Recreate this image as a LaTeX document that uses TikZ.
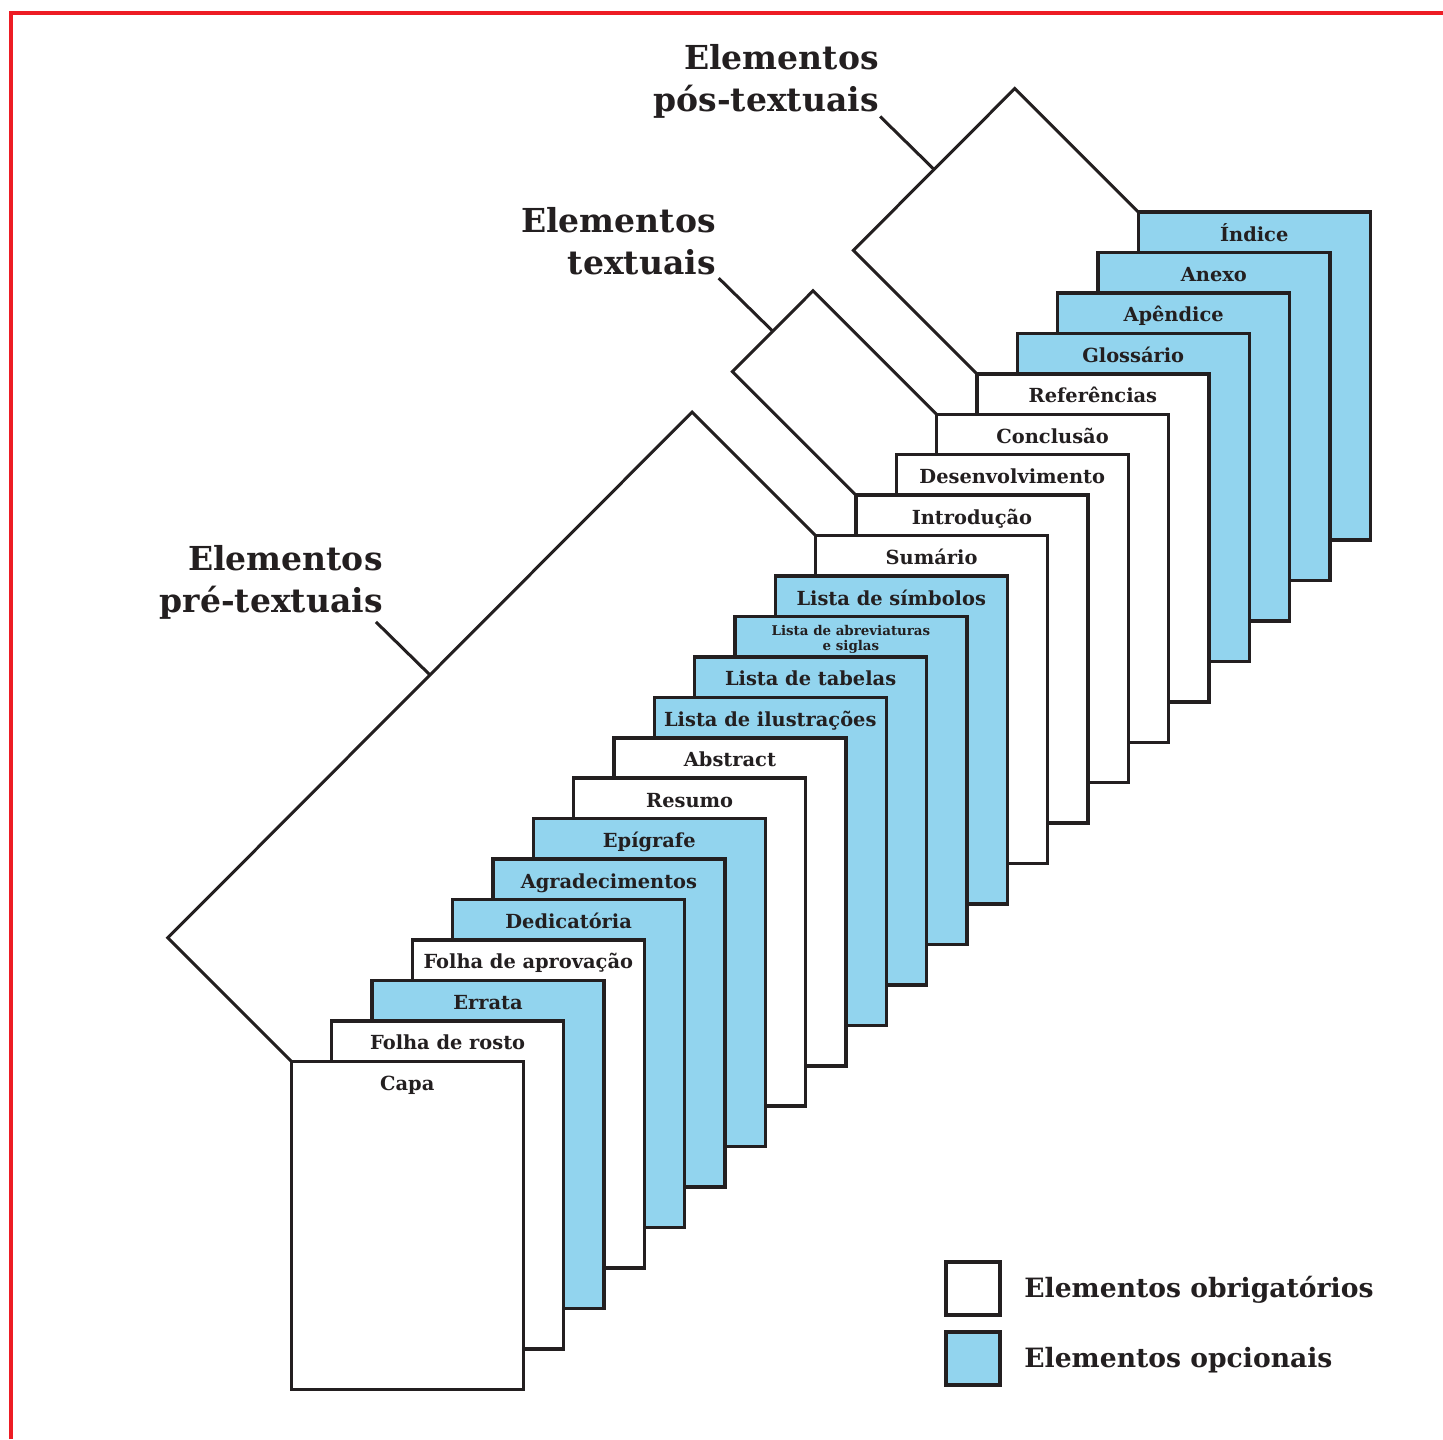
\documentclass[tikz,border=0pt]{standalone}
\usepackage{fontspec}
\setmainfont{DejaVu Serif}
\usetikzlibrary{calc}
\definecolor{ink}{HTML}{231F20}
\definecolor{optblue}{HTML}{92D4EE}
\definecolor{framered}{HTML}{ED1C24}
\newcommand{\abrevlabel}{{\fontsize{6.7}{7.5}\selectfont\begin{tabular}[t]{@{}c@{}}Lista de abreviaturas\\e siglas\end{tabular}}}
\newcommand{\twolines}[2]{\begin{tabular}[t]{@{}r@{}}#1\\#2\end{tabular}}
\begin{document}
\begin{tikzpicture}[x=0.5pt,y=-0.5pt,
  pagebox/.style={draw=ink, line width=1.75pt, minimum width=116pt, minimum height=164pt, inner sep=0pt, outer sep=0pt},
  pagetext/.style={text=ink, font=\bfseries\fontsize{9.7}{11}\selectfont, inner sep=0pt, anchor=base},
  bracket/.style={draw=ink, line width=1.5pt, line join=miter},
  grouptext/.style={text=ink, font=\bfseries\fontsize{16.5}{21}\selectfont, inner sep=0pt, anchor=base east},
  legbox/.style={draw=ink, line width=2pt, minimum width=27pt, minimum height=26.5pt, inner sep=0pt, outer sep=0pt},
  legtext/.style={text=ink, font=\bfseries\fontsize{13.3}{15}\selectfont, inner sep=0pt, anchor=base west}]
\useasboundingbox (0,0) rectangle (1443,1439);
% red frame
\draw[framered, line width=2pt] (11,1439) -- (11,13) -- (1443,13);
% pages, back to front
\foreach \i/\fc/\txt/\off in {21/optblue/Índice/29, 20/optblue/Anexo/29, 19/optblue/Apêndice/29, 18/optblue/Glossário/29, 17/white/Referências/29, 16/white/Conclusão/29, 15/white/Desenvolvimento/29, 14/white/Introdução/29, 13/white/Sumário/29, 12/optblue/Lista de símbolos/29, 11/optblue/\abrevlabel/19, 10/optblue/Lista de tabelas/29, 9/optblue/Lista de ilustrações/29, 8/white/Abstract/29, 7/white/Resumo/29, 6/optblue/Epígrafe/29, 5/optblue/Agradecimentos/29, 4/optblue/Dedicatória/29, 3/white/Folha de aprovação/29, 2/optblue/Errata/29, 1/white/Folha de rosto/29, 0/white/Capa/29}{
  \node[pagebox, fill=\fc] (p\i) at ({407.3+40.33*\i},{1225.3-40.44*\i}) {};
  \node[pagetext] (t\i) at ($(p\i.north)+(0,\off)$) {\txt};
}
% pre-textual bracket
\draw[bracket] (p0.north west) -- ++(-123.5,-123.5) coordinate (preA)
  -- ($(p13.north west)+(-123.5,-123.5)$) coordinate (preB) -- (p13.north west);
\coordinate (preM) at ($(preA)!0.5!(preB)$);
\draw[bracket] (preM) -- ++(-54,-53) coordinate (preT);
\node[grouptext] (gpre) at (383,570) {\twolines{Elementos}{pré-textuais}};
% textual bracket
\draw[bracket] (p14.north west) -- ++(-123.5,-123.5) coordinate (txA)
  -- ($(p16.north west)+(-123.5,-123.5)$) coordinate (txB) -- (p16.north west);
\coordinate (txM) at ($(txA)!0.5!(txB)$);
\draw[bracket] (txM) -- ++(-54,-53) coordinate (txT);
\node[grouptext] (gtx) at (716,232) {\twolines{Elementos}{textuais}};
% post-textual bracket
\draw[bracket] (p17.north west) -- ++(-123.5,-123.5) coordinate (posA)
  -- ($(p21.north west)+(-123.5,-123.5)$) coordinate (posB) -- (p21.north west);
\coordinate (posM) at ($(posA)!0.5!(posB)$);
\draw[bracket] (posM) -- ++(-54,-53) coordinate (posT);
\node[grouptext] (gpos) at (879,70) {\twolines{Elementos}{pós-textuais}};
% legend
\node[legbox, fill=white] (lw) at (973,1288.5) {};
\node[legbox, fill=optblue] (lb) at (973,1358.5) {};
\node[legtext] (lwt) at (1024,1297) {Elementos obrigatórios};
\node[legtext] (lbt) at (1024,1367) {Elementos opcionais};
\end{tikzpicture}
\end{document}
